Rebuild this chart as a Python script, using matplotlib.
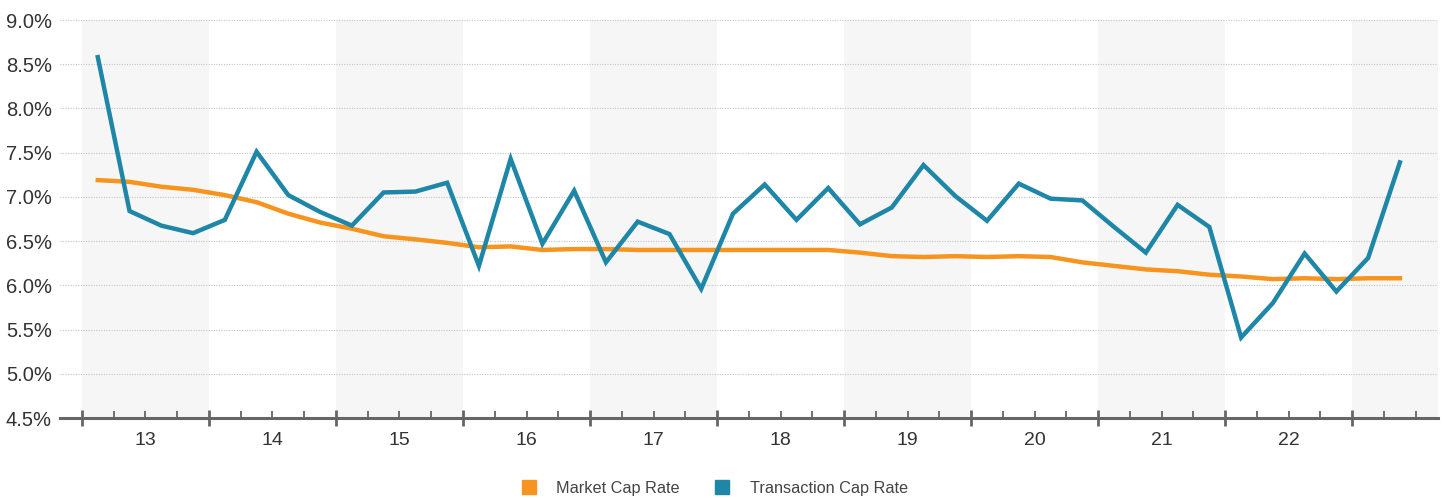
import matplotlib
matplotlib.use("Agg")
import matplotlib.pyplot as plt
from matplotlib.lines import Line2D
import matplotlib.transforms as mtransforms

plt.rcParams['font.family'] = ['Liberation Sans', 'DejaVu Sans']

# quarterly values, 2013 Q1 .. 2023 Q2
years = ['13', '14', '15', '16', '17', '18', '19', '20', '21', '22']
market_cap = [7.19, 7.17, 7.115, 7.08,
              7.02, 6.94, 6.81, 6.71,
              6.64, 6.555, 6.52, 6.48,
              6.43, 6.44, 6.40, 6.41,
              6.41, 6.40, 6.40, 6.40,
              6.40, 6.40, 6.40, 6.40,
              6.37, 6.33, 6.32, 6.33,
              6.32, 6.33, 6.32, 6.26,
              6.22, 6.18, 6.16, 6.12,
              6.10, 6.07, 6.08, 6.07,
              6.08, 6.08]
transaction_cap = [8.58, 6.84, 6.675, 6.59,
                   6.74, 7.51, 7.02, 6.83,
                   6.675, 7.05, 7.06, 7.16,
                   6.22, 7.43, 6.47, 7.07,
                   6.26, 6.72, 6.58, 5.96,
                   6.81, 7.14, 6.74, 7.10,
                   6.69, 6.88, 7.36, 7.01,
                   6.73, 7.15, 6.98, 6.96,
                   6.66, 6.37, 6.91, 6.66,
                   5.41, 5.80, 6.36, 5.93,
                   6.31, 7.39]
y_ticks = [4.5, 5.0, 5.5, 6.0, 6.5, 7.0, 7.5, 8.0, 8.5, 9.0]

orange = '#F7941D'
blue = '#1E86A6'
axis_col = '#666666'

fig = plt.figure(figsize=(14.45, 4.98), dpi=100)
ax = fig.add_axes([60 / 1445, 1 - 418 / 498, (1438 - 60) / 1445, 398 / 498])

x = [i + 0.5 for i in range(len(transaction_cap))]
xmax = 42.7

# alternating year bands
for k in range(0, 11, 2):
    ax.axvspan(4 * k, min(4 * k + 4, xmax), color='#F6F6F6', lw=0, zorder=0)

for v in y_ticks[1:]:
    ax.axhline(v, color='#C4C4C4', lw=0.8, ls=(0, (1, 1.3)), zorder=1)

ax.plot(x, market_cap, color=orange, lw=3.2, solid_joinstyle='miter', zorder=3)
ax.plot(x, transaction_cap, color=blue, lw=3.2, solid_joinstyle='miter', zorder=4)

ax.set_xlim(-0.69, xmax)
ax.set_ylim(4.5, 9.0)
ax.set_yticks(y_ticks)
ax.set_yticklabels([f'{v:.1f}%' for v in y_ticks], fontsize=14.5, color='#333333')
ax.tick_params(axis='y', length=0, pad=6)

ax.set_xticks(range(0, 41, 4))
ax.set_xticks([q for q in range(1, 43) if q % 4 != 0], minor=True)
ax.tick_params(axis='x', which='major', direction='inout', length=11, width=2,
               color=axis_col, labelbottom=False)
ax.tick_params(axis='x', which='minor', direction='in', length=5, width=1.3,
               color=axis_col)

for s in ['top', 'right', 'left']:
    ax.spines[s].set_visible(False)
ax.spines['bottom'].set_color(axis_col)
ax.spines['bottom'].set_linewidth(2.2)

trans = mtransforms.blended_transform_factory(ax.transData, ax.transAxes)
for i, yr in enumerate(years):
    ax.text(4 * i + 2, -0.036, yr, transform=trans, ha='center', va='top',
            fontsize=14, color='#333333')

handles = [Line2D([], [], ls='', marker='s', ms=10, color=orange),
           Line2D([], [], ls='', marker='s', ms=10, color=blue)]
fig.legend(handles, ['Market Cap Rate', 'Transaction Cap Rate'], loc='lower center',
           bbox_to_anchor=(0.4915, -0.025), ncol=2, frameon=False, fontsize=11.7,
           handletextpad=0.7, columnspacing=1.6, labelcolor='#444444')

fig.savefig('out.png', dpi=100)
